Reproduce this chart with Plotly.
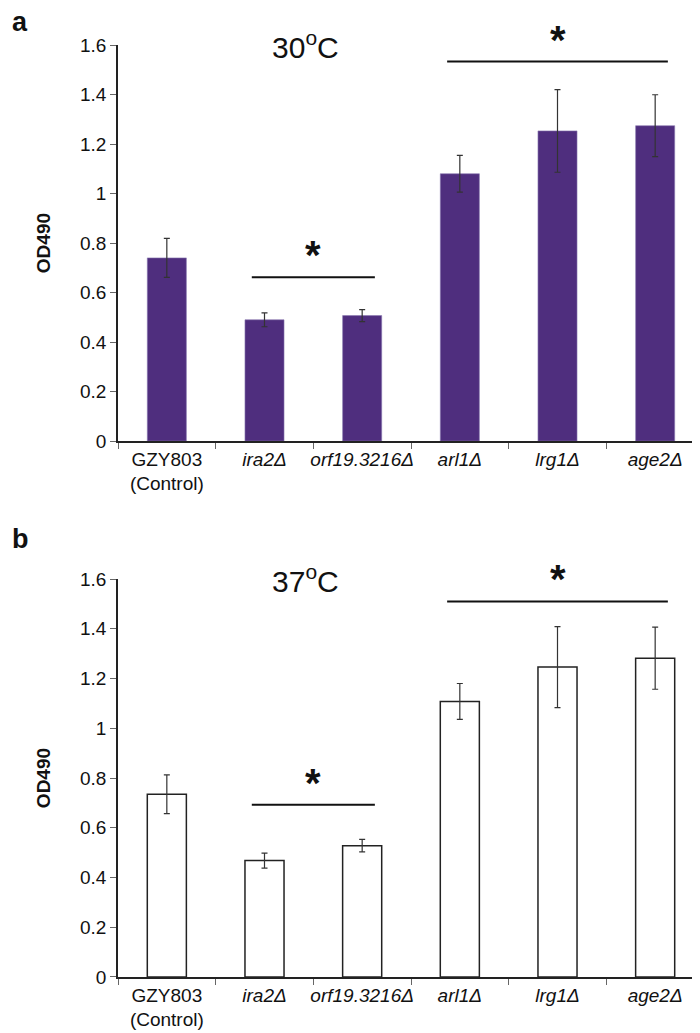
import plotly.graph_objects as go
from plotly.subplots import make_subplots

# data
strains = ["GZY803", "ira2", "orf19.3216", "arl1", "lrg1", "age2"]
strain_labels = ["GZY803<br>(Control)", "<i>ira2Δ</i>", "<i>orf19.3216Δ</i>",
                 "<i>arl1Δ</i>", "<i>lrg1Δ</i>", "<i>age2Δ</i>"]

od_30 = [0.74, 0.49, 0.507, 1.08, 1.253, 1.274]
err_30 = [0.079, 0.028, 0.024, 0.074, 0.167, 0.125]

od_37 = [0.735, 0.468, 0.528, 1.108, 1.246, 1.282]
err_37 = [0.078, 0.03, 0.025, 0.072, 0.163, 0.125]

y_ticks = [0, 0.2, 0.4, 0.6, 0.8, 1, 1.2, 1.4, 1.6]
y_ticktext = ["0", "0.2", "0.4", "0.6", "0.8", "1", "1.2", "1.4", "1.6"]

# significance brackets: (first strain, last strain, height) per panel
brackets_30 = [("ira2", "orf19.3216", 0.662), ("arl1", "age2", 1.533)]
brackets_37 = [("ira2", "orf19.3216", 0.693), ("arl1", "age2", 1.51)]

FONT = "Liberation Sans, Arial, sans-serif"
PURPLE = "#4f2e7e"

fig = make_subplots(rows=2, cols=1)

fig.add_trace(go.Bar(x=strains, y=od_30, width=0.4,
                     marker=dict(color=PURPLE, line=dict(color="#8a78b0", width=0.6)),
                     error_y=dict(type="data", array=err_30, color="#333333",
                                  thickness=1.2, width=3)),
              row=1, col=1)
fig.add_trace(go.Bar(x=strains, y=od_37, width=0.4,
                     marker=dict(color="white", line=dict(color="#222222", width=1.5)),
                     error_y=dict(type="data", array=err_37, color="#333333",
                                  thickness=1.2, width=3)),
              row=2, col=1)

axis_common = dict(showline=True, linecolor="#222222", linewidth=1.5,
                   ticks="outside", tickcolor="#666666", ticklen=6,
                   showgrid=False, zeroline=False, automargin=False)

for ax, yax in [("xaxis", "yaxis"), ("xaxis2", "yaxis2")]:
    fig.layout[ax].update(categoryorder="array", categoryarray=strains,
                          tickmode="array", tickvals=strains, ticktext=strain_labels,
                          tickson="boundaries", range=[-0.5, 5.5], tickangle=0,
                          tickfont=dict(family=FONT, size=19, color="#111111"),
                          **axis_common)
    fig.layout[yax].update(range=[0, 1.6], tickvals=y_ticks, ticktext=y_ticktext,
                           tickfont=dict(family=FONT, size=19, color="#111111"),
                           title=dict(text="<b>OD490</b>", standoff=24,
                                      font=dict(family=FONT, size=19, color="#111111")),
                           **axis_common)

fig.layout.yaxis.domain = [0.575, 1.0]
fig.layout.yaxis2.domain = [0.0, 0.427]

annotations = []
shapes = []
for row, brackets in [(1, brackets_30), (2, brackets_37)]:
    xr = "x" if row == 1 else "x2"
    yr = "y" if row == 1 else "y2"
    for first, last, h in brackets:
        x0 = strains.index(first) - 0.13
        x1 = strains.index(last) + 0.13
        shapes.append(dict(type="line", xref=xr, yref=yr, x0=x0, x1=x1, y0=h, y1=h,
                           line=dict(color="#111111", width=2)))
        annotations.append(dict(xref=xr, yref=yr, x=(x0 + x1) / 2, y=h, text="<b>*</b>",
                                showarrow=False, yanchor="bottom", yshift=-2,
                                font=dict(family=FONT, size=40, color="#111111")))

for text, xref, yref in [("30<sup>o</sup>C", "x domain", "y domain"),
                         ("37<sup>o</sup>C", "x2 domain", "y2 domain")]:
    annotations.append(dict(xref=xref, yref=yref, x=0.26, y=1.0, text=text,
                            showarrow=False, yanchor="middle",
                            font=dict(family=FONT, size=30, color="#111111")))

annotations.append(dict(xref="paper", yref="paper", x=-0.185, y=1.025, text="<b>a</b>",
                        showarrow=False, xanchor="left", yanchor="middle",
                        font=dict(family=FONT, size=27, color="#111111")))
annotations.append(dict(xref="paper", yref="paper", x=-0.185, y=0.47, text="<b>b</b>",
                        showarrow=False, xanchor="left", yanchor="middle",
                        font=dict(family=FONT, size=27, color="#111111")))

fig.update_layout(width=700, height=1033, showlegend=False,
                  margin=dict(l=110, r=4, t=37, b=64),
                  paper_bgcolor="white", plot_bgcolor="white",
                  font=dict(family=FONT),
                  annotations=annotations, shapes=shapes, bargap=0.6)

fig.write_html("out.html")
